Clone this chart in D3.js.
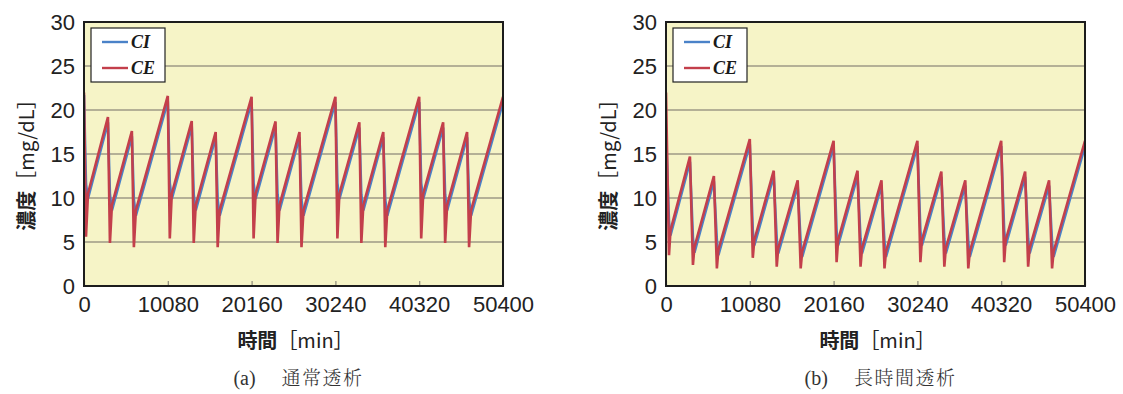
<!DOCTYPE html>
<html>
<head>
<meta charset="utf-8">
<script src="https://cdn.jsdelivr.net/npm/d3@7"></script>
<style>
  html, body { margin: 0; padding: 0; background: #ffffff; }
  svg { display: block; }
</style>
</head>
<body>
<svg id="chart" width="1123" height="394"></svg>
<script>
// Axis ticks shared by both panels
const xTicks = [0, 10080, 20160, 30240, 40320, 50400];
const yTicks = [0, 5, 10, 15, 20, 25, 30];
const gridValues = [5, 10, 15, 20, 25];
const seriesNames = ["CI", "CE"];

// (a) conventional dialysis: time [min], intracellular CI and extracellular CE [mg/dL]
const timeNormal = [
  0, 240, 480,
  2880, 3120, 3360,
  5760, 6000, 6240,
  10080, 10320, 10560,
  12960, 13200, 13440,
  15840, 16080, 16320,
  20160, 20400, 20640,
  23040, 23280, 23520,
  25920, 26160, 26400,
  30240, 30480, 30720,
  33120, 33360, 33600,
  36000, 36240, 36480,
  40320, 40560, 40800,
  43200, 43440, 43680,
  46080, 46320, 46560,
  50400
];
const ciNormal = [
  21.7, 11.6, 9.95,
  18.6, 10.4, 8.6,
  17.0, 9.8, 8.0,
  21.0, 11.7, 9.9,
  18.15, 10.4, 8.6,
  16.9, 9.8, 8.0,
  20.9, 11.7, 9.9,
  18.1, 10.4, 8.6,
  16.9, 9.8, 8.0,
  20.9, 11.7, 9.9,
  18.0, 10.4, 8.6,
  16.9, 9.8, 8.0,
  20.9, 11.7, 9.9,
  18.0, 10.4, 8.6,
  16.9, 9.8, 8.0,
  20.9
];
const ceNormal = [
  22.0, 5.6, 10.5,
  19.2, 4.9, 9.2,
  17.6, 4.4, 8.6,
  21.6, 5.4, 10.5,
  18.75, 4.9, 9.2,
  17.5, 4.4, 8.6,
  21.5, 5.4, 10.5,
  18.7, 4.9, 9.2,
  17.5, 4.4, 8.6,
  21.5, 5.4, 10.5,
  18.6, 4.9, 9.2,
  17.5, 4.4, 8.6,
  21.5, 5.4, 10.5,
  18.6, 4.9, 9.2,
  17.5, 4.4, 8.6,
  21.5
];

// (b) long-duration dialysis
const timeLong = [
  0, 360, 540,
  2880, 3240, 3420,
  5760, 6120, 6300,
  10080, 10440, 10620,
  12960, 13320, 13500,
  15840, 16200, 16380,
  20160, 20520, 20700,
  23040, 23400, 23580,
  25920, 26280, 26460,
  30240, 30600, 30780,
  33120, 33480, 33660,
  36000, 36360, 36540,
  40320, 40680, 40860,
  43200, 43560, 43740,
  46080, 46440, 46620,
  50400
];
const ciLong = [
  17.4, 7.3, 5.75,
  14.1, 5.5, 3.8,
  11.9, 5.2, 3.5,
  16.1, 6.3, 4.6,
  12.5, 5.4, 3.7,
  11.4, 5.0, 3.3,
  15.9, 6.3, 4.6,
  12.5, 5.4, 3.7,
  11.4, 5.0, 3.3,
  15.9, 6.3, 4.6,
  12.4, 5.4, 3.7,
  11.4, 5.0, 3.3,
  15.9, 6.3, 4.6,
  12.4, 5.4, 3.7,
  11.4, 5.0, 3.3,
  15.9
];
const ceLong = [
  22.0, 3.5, 6.3,
  14.7, 2.4, 4.4,
  12.5, 2.0, 4.1,
  16.7, 3.2, 5.2,
  13.1, 2.2, 4.3,
  12.0, 2.0, 3.9,
  16.5, 2.7, 5.2,
  13.1, 2.2, 4.3,
  12.0, 2.0, 3.9,
  16.5, 2.7, 5.2,
  13.0, 2.2, 4.3,
  12.0, 2.0, 3.9,
  16.5, 2.7, 5.2,
  13.0, 2.2, 4.3,
  12.0, 2.0, 3.9,
  16.5
];

const panels = [
  { left: 84, label: "(a)", title: "通常透析", time: timeNormal, ci: ciNormal, ce: ceNormal },
  { left: 666, label: "(b)", title: "長時間透析", time: timeLong, ci: ciLong, ce: ceLong }
];

const colors = { CI: "#4a82c8", CE: "#c33f4b" };
const plotW = 419, plotTop = 22, plotBottom = 286;
const sansFont = "'Liberation Sans', Arial, sans-serif";
const cjkFont = "'Noto Sans CJK JP', 'Noto Sans', sans-serif";

const svg = d3.select("#chart");

panels.forEach(p => {
  const x = d3.scaleLinear().domain([0, 50400]).range([p.left, p.left + plotW]);
  const y = d3.scaleLinear().domain([0, 30]).range([plotBottom, plotTop]);
  const g = svg.append("g");

  // plot background
  g.append("rect")
    .attr("x", x(0)).attr("y", y(30))
    .attr("width", x(50400) - x(0)).attr("height", y(0) - y(30))
    .attr("fill", "#f6f4c7");

  // horizontal gridlines
  g.append("g").selectAll("line").data(gridValues).join("line")
    .attr("x1", x(0)).attr("x2", x(50400))
    .attr("y1", d => y(d)).attr("y2", d => y(d))
    .attr("stroke", "#9e9a86").attr("stroke-width", 1.6);

  // series lines (CI underneath, CE on top)
  const clipId = "clip" + p.left;
  svg.append("clipPath").attr("id", clipId).append("rect")
    .attr("x", x(0)).attr("y", y(30))
    .attr("width", x(50400) - x(0)).attr("height", y(0) - y(30));

  const line = d3.line()
    .x(d => x(d[0]))
    .y(d => y(d[1]));

  const seriesData = {
    CI: p.time.map((t, i) => [t, p.ci[i]]),
    CE: p.time.map((t, i) => [t, p.ce[i]])
  };

  const lines = g.append("g").attr("clip-path", `url(#${clipId})`);
  seriesNames.forEach(name => {
    lines.append("path")
      .datum(seriesData[name])
      .attr("fill", "none")
      .attr("stroke", colors[name])
      .attr("stroke-width", 2.6)
      .attr("stroke-linejoin", "miter")
      .attr("stroke-miterlimit", 4)
      .attr("d", line);
  });

  // x axis: labels below, short ticks pointing inward
  const xAxis = g.append("g")
    .attr("transform", `translate(0,${plotBottom})`)
    .call(d3.axisBottom(x).tickValues(xTicks).tickSize(-5).tickPadding(10).tickFormat(d3.format("d")));
  xAxis.select(".domain").remove();
  xAxis.selectAll(".tick line").attr("stroke", "#8d8a7a").attr("stroke-width", 1.2);
  xAxis.selectAll(".tick text")
    .attr("font-family", sansFont).attr("font-size", 22).attr("fill", "#222");

  // y axis labels
  const yAxis = g.append("g")
    .attr("transform", `translate(${p.left},0)`)
    .call(d3.axisLeft(y).tickValues(yTicks).tickSize(0).tickPadding(9));
  yAxis.select(".domain").remove();
  yAxis.selectAll(".tick text")
    .attr("font-family", sansFont).attr("font-size", 22).attr("fill", "#222");

  // plot frame
  g.append("rect")
    .attr("x", x(0)).attr("y", y(30))
    .attr("width", x(50400) - x(0)).attr("height", y(0) - y(30))
    .attr("fill", "none").attr("stroke", "#1c1c1c").attr("stroke-width", 2);

  // legend
  const lg = g.append("g").attr("transform", `translate(${p.left + 7},28)`);
  lg.append("rect").attr("width", 74).attr("height", 54)
    .attr("fill", "#ffffff").attr("stroke", "#222").attr("stroke-width", 1.2);
  seriesNames.forEach((name, i) => {
    const ly = 14 + i * 26;
    lg.append("line").attr("x1", 11).attr("x2", 37).attr("y1", ly).attr("y2", ly)
      .attr("stroke", colors[name]).attr("stroke-width", 2.4);
    lg.append("text").attr("x", 40).attr("y", ly + 6)
      .attr("font-family", "'Liberation Serif', 'Times New Roman', serif")
      .attr("font-style", "italic").attr("font-weight", "bold")
      .attr("font-size", 18).attr("fill", "#1a1a1a")
      .text(name);
  });

  // y axis title
  const yt = g.append("text")
    .attr("transform", `translate(${p.left - 59},${(plotTop + plotBottom) / 2 + 6}) rotate(-90)`)
    .attr("text-anchor", "middle").attr("dominant-baseline", "central")
    .attr("font-family", cjkFont).attr("font-size", 20).attr("fill", "#222");
  yt.append("tspan").attr("font-weight", "bold").text("濃度");
  yt.append("tspan").text("［mg/dL］");

  // x axis title
  const xt = g.append("text")
    .attr("x", (x(0) + x(50400)) / 2 + 2).attr("y", 348)
    .attr("text-anchor", "middle")
    .attr("font-family", cjkFont).attr("font-size", 20).attr("fill", "#222");
  xt.append("tspan").attr("font-weight", "bold").text("時間");
  xt.append("tspan").text("［min］");

  // panel caption
  const cap = g.append("text")
    .attr("x", (x(0) + x(50400)) / 2 + 5).attr("y", 385)
    .attr("text-anchor", "middle")
    .attr("font-family", "'Noto Serif CJK JP', 'Noto Sans CJK JP', serif")
    .attr("font-size", 19).attr("fill", "#333");
  cap.append("tspan").attr("font-family", "'Liberation Serif', serif").attr("font-size", 20).text(p.label);
  cap.append("tspan").attr("dx", 26).attr("letter-spacing", 1.5).attr("font-weight", 300).text(p.title);
});
</script>
</body>
</html>
